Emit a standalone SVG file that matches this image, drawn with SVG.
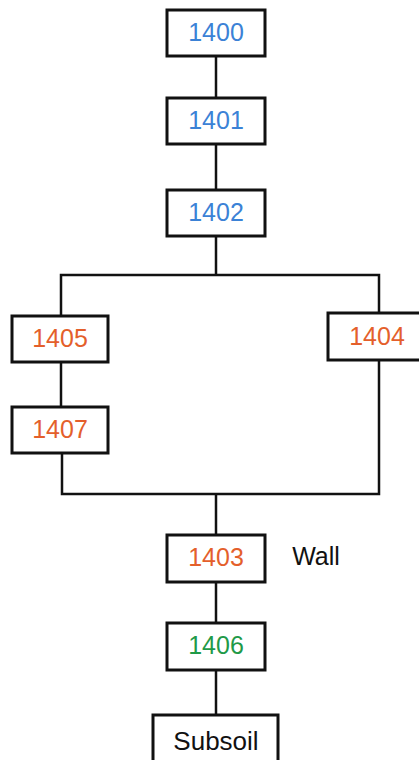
<svg xmlns="http://www.w3.org/2000/svg" width="419" height="760" viewBox="0 0 419 760">
<style>
.box{fill:#fff;stroke:#111;stroke-width:3}
.lbl{font-family:"Liberation Sans",Arial,sans-serif;font-size:25px;text-anchor:middle}
.blue{fill:#3b82d6}
.orange{fill:#e45f2b}
.green{fill:#1f9a48}
.black{fill:#111}
.conn{stroke:#111;stroke-width:2.5;fill:none}
</style>
<rect width="419" height="760" fill="#fff"/>
<g id="connectors">
<line class="conn" x1="216" y1="56" x2="216" y2="97"/>
<line class="conn" x1="216" y1="144" x2="216" y2="189"/>
<line class="conn" x1="216" y1="236" x2="216" y2="275"/>
<polyline class="conn" points="61,316 61,275 379,275 379,313"/>
<line class="conn" x1="61" y1="363" x2="61" y2="407"/>
<polyline class="conn" points="62,453 62,494 379,494 379,360"/>
<line class="conn" x1="216" y1="494" x2="216" y2="535"/>
<line class="conn" x1="216" y1="582" x2="216" y2="623"/>
<line class="conn" x1="216" y1="670" x2="216" y2="715"/>
</g>
<g id="n1400"><rect class="box" x="167" y="10" width="98" height="46"/><text class="lbl blue" x="216" y="41">1400</text></g>
<g id="n1401"><rect class="box" x="167" y="98" width="98" height="46"/><text class="lbl blue" x="216" y="129">1401</text></g>
<g id="n1402"><rect class="box" x="167" y="190" width="98" height="46"/><text class="lbl blue" x="216" y="221">1402</text></g>
<g id="n1405"><rect class="box" x="12" y="316" width="96" height="46"/><text class="lbl orange" x="60" y="347">1405</text></g>
<g id="n1404"><rect class="box" x="328" y="313" width="98" height="47"/><text class="lbl orange" x="377" y="345">1404</text></g>
<g id="n1407"><rect class="box" x="12" y="407" width="96" height="46"/><text class="lbl orange" x="60" y="438">1407</text></g>
<g id="n1403"><rect class="box" x="167" y="535" width="98" height="47"/><text class="lbl orange" x="216" y="566">1403</text></g>
<g id="wall"><text class="lbl black" x="316" y="565">Wall</text></g>
<g id="n1406"><rect class="box" x="167" y="623" width="98" height="47"/><text class="lbl green" x="216" y="654">1406</text></g>
<g id="subsoil"><rect class="box" x="153" y="715" width="125" height="60"/><text class="lbl black" x="216" y="750" style="font-size:26px">Subsoil</text></g>
</svg>
